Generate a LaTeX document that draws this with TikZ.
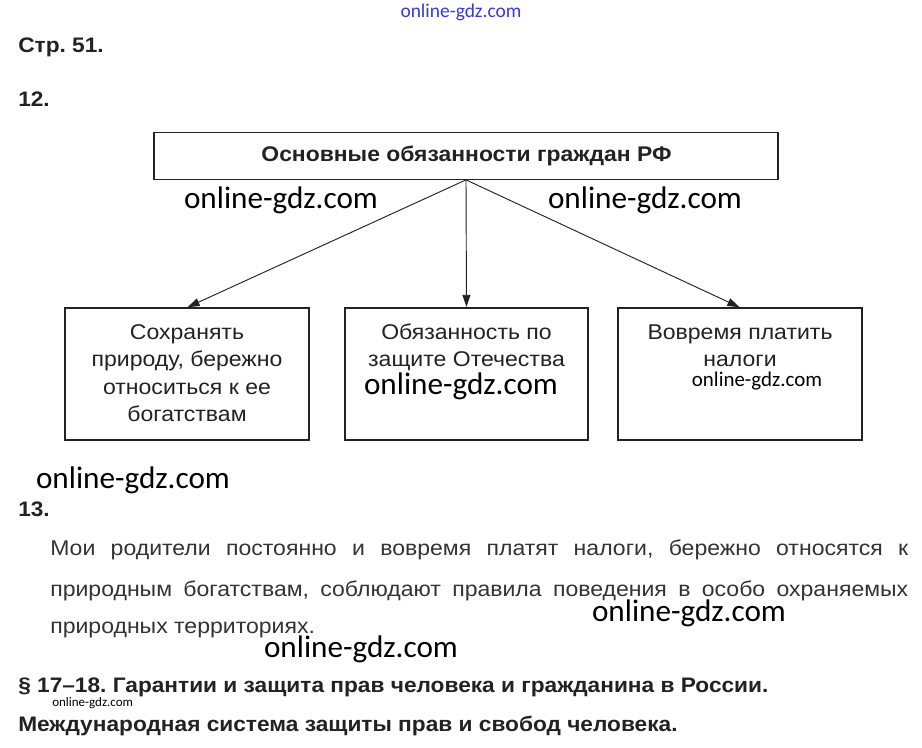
\documentclass[tikz,border=0pt]{standalone}
\usepackage{fontspec}
\setmainfont{Liberation Sans}[FakeStretch=1.08]
\newfontfamily\wm{Carlito}
\usetikzlibrary{arrows.meta}
\definecolor{txt}{HTML}{222222}
\definecolor{par}{HTML}{333333}
\definecolor{wmblue}{HTML}{3A3AD0}
\begin{document}
\frenchspacing
\begin{tikzpicture}[x=0.75pt,y=-0.75pt,
  box/.style={draw=txt, line width=0.8pt, inner sep=0pt},
  head/.style={anchor=base west, inner sep=0pt, font=\fontsize{15.75}{18}\selectfont\bfseries, text=txt},
  btxt/.style={inner sep=0pt, anchor=base, align=center, font=\fontsize{16}{20.6}\selectfont, text=txt},
  ptxt/.style={anchor=base west, inner sep=0pt, font=\fontsize{16}{18}\selectfont, text=par},
  wmbig/.style={inner sep=0pt, font=\wm\fontsize{23.4}{26}\selectfont, text=black},
  arr/.style={-{Triangle[length=9pt,width=6pt]}, line width=0.7pt, draw=txt, shorten >=0.5pt}
]
\useasboundingbox (0,0) rectangle (922,747);
\fill[white] (0,0) rectangle (922,747);

\node[inner sep=0pt, font=\wm\fontsize{14.6}{16}\selectfont, text=wmblue] (wm0) at (461,12) {online-gdz.com};

\node[head] (p51) at (18,52.3) {Стр. 51.};
\node[head] (n12) at (18,106.7) {12.};

\node[box, minimum width=468pt, minimum height=35pt] (top) at (466,156) {};
\node[inner sep=0pt, anchor=base, font=\fontsize{15.9}{18}\selectfont\bfseries, text=txt] (toptxt) at (466.5,161.7) {Основные обязанности граждан РФ};

\node[wmbig] (wm1) at (281,200) {online-gdz.com};
\node[wmbig] (wm2) at (645,200) {online-gdz.com};

\node[box, minimum width=183pt, minimum height=99pt] (bl) at (187,374) {};
\node[box, minimum width=182.25pt, minimum height=99pt] (bm) at (466.5,374) {};
\node[box, minimum width=183pt, minimum height=99pt] (br) at (740,374) {};

\draw[arr] (top.south) -- (bl.north);
\draw[arr] (top.south) -- (bm.north);
\draw[arr] (top.south) -- (br.north);

% anchor=base of a multi-line node is the baseline of its last line
\node[btxt] (tl) at (187,421.8) {Сохранять\\природу, бережно\\относиться к ее\\богатствам};
\node[btxt] (tm) at (466.5,366.8) {Обязанность по\\защите Отечества};
\node[btxt] (tr) at (740,366.8) {Вовремя платить\\налоги};

\node[wmbig] (wm3) at (461,386) {online-gdz.com};
\node[inner sep=0pt, font=\wm\fontsize{15.7}{18}\selectfont] (wm4) at (757,381) {online-gdz.com};

\node[wmbig] (wm5) at (133,480) {online-gdz.com};
\node[head] (n13) at (18,516.7) {13.};

\node[ptxt] (l1) at (50,555) {\makebox[643.5pt][s]{Мои родители постоянно и вовремя платят налоги, бережно относятся к}};
\node[ptxt] (l2) at (50,596) {\makebox[643.5pt][s]{природным богатствам, соблюдают правила поведения в особо охраняемых}};
\node[ptxt] (l3) at (50,633) {природных территориях.};

\node[wmbig] (wm6) at (689,613) {online-gdz.com};
\node[wmbig] (wm7) at (361,649) {online-gdz.com};

\node[head] (s17) at (18,692.7) {§ 17–18. Гарантии и защита прав человека и гражданина в России.};
\node[inner sep=0pt, anchor=base west, font=\wm\fontsize{9.75}{11}\selectfont] (wm8) at (52,706.7) {online-gdz.com};
\node[head] (mez) at (18,731.7) {Международная система защиты прав и свобод человека.};
\end{tikzpicture}
\end{document}
